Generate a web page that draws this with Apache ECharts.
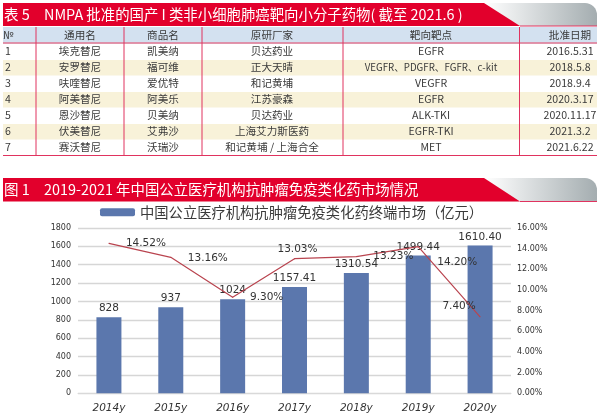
<!DOCTYPE html>
<html>
<head>
<meta charset="utf-8">
<style>
  html, body { margin: 0; padding: 0; background: #fff; }
  #chart { width: 600px; height: 418px; }
</style>
<script src="https://cdn.jsdelivr.net/npm/echarts@6/dist/echarts.min.js"></script>
</head>
<body>
<div id="chart"></div>
<script>
var tableTitleNo = '表 5';
var tableTitle = 'NMPA 批准的国产 I 类非小细胞肺癌靶向小分子药物( 截至 2021.6 )';
var chartTitleNo = '图 1';
var chartTitle = '2019-2021 年中国公立医疗机构抗肿瘤免疫类化药市场情况';

var tableHeader = ['№', '通用名', '商品名', '原研厂家', '靶向靶点', '批准日期'];
var rowNumbers = ['1', '2', '3', '4', '5', '6', '7'];
var genericNames = ['埃克替尼', '安罗替尼', '呋喹替尼', '阿美替尼', '恩沙替尼', '伏美替尼', '赛沃替尼'];
var tradeNames = ['凯美纳', '福可维', '爱优特', '阿美乐', '贝美纳', '艾弗沙', '沃瑞沙'];
var makers = ['贝达药业', '正大天晴', '和记黄埔', '江苏豪森', '贝达药业', '上海艾力斯医药', '和记黄埔 / 上海合全'];
var targets = ['EGFR', 'VEGFR、PDGFR、FGFR、c-kit', 'VEGFR', 'EGFR', 'ALK-TKI', 'EGFR-TKI', 'MET'];
var approvalDates = ['2016.5.31', '2018.5.8', '2018.9.4', '2020.3.17', '2020.11.17', '2021.3.2', '2021.6.22'];

var years = ['2014y', '2015y', '2016y', '2017y', '2018y', '2019y', '2020y'];
var marketName = '中国公立医疗机构抗肿瘤免疫类化药终端市场（亿元）';
var marketValues = [828, 937, 1024, 1157.41, 1310.54, 1499.44, 1610.40];
var growthValues = [14.52, 13.16, 9.30, 13.03, 13.23, 14.20, 7.40];

// where each growth label sits relative to its point
var growthLabelOffsets = [[37, 0], [37, 1], [34, 0], [3, -9], [37, 0], [39, 16], [-21, -11]];

var RED = '#e2002c';
var LINE_RED = '#e0335f';
var FONT = '"Noto Sans CJK SC", "Noto Sans", sans-serif';
var TEXT = '#3a3a3a';

// table geometry
var colLines = [36, 124, 202, 343, 519.5];
var colCenters = [5, 80, 163, 272, 431, 570];
var rowTop = [44, 60, 76, 92, 108, 124, 140];
var rowBottom = 155.5;

var graphics = [];

function rect(x, y, w, h, fill, r) {
  graphics.push({ type: 'rect', silent: true, shape: { x: x, y: y, width: w, height: h, r: r || 0 }, style: { fill: fill } });
}
function line(x1, y1, x2, y2, color, width) {
  graphics.push({ type: 'line', silent: true, shape: { x1: x1, y1: y1, x2: x2, y2: y2 }, style: { stroke: color, lineWidth: width } });
}
function text(str, x, y, size, color, align) {
  graphics.push({
    type: 'text', silent: true, x: x, y: y,
    style: { text: str, fill: color, font: size + 'px ' + FONT, textAlign: align || 'center', textVerticalAlign: 'middle' }
  });
}

function banner(top, height, no, title) {
  var grey = new echarts.graphic.LinearGradient(0, 0, 1, 0, [
    { offset: 0, color: '#ffffff' },
    { offset: 1, color: '#a4adb0' }
  ]);
  rect(485, top, 112, height, grey, [0, 12, 0, 0]);
  graphics.push({
    type: 'polygon', silent: true,
    shape: { points: [[3, top], [484, top], [520, top + height], [3, top + height]] },
    style: { fill: RED }
  });
  line(520, top + height, 597, top + height, LINE_RED, 1);
  text(no, 4, top + height / 2, 14.5, '#fff', 'left');
  text(title, 44, top + height / 2, 14.4, '#fff', 'left');
}

banner(3, 23, tableTitleNo, tableTitle);
banner(178, 23.5, chartTitleNo, chartTitle);

// table
rect(3, 27, 594, 15.5, '#d3e1f0');
[1, 3, 5].forEach(function (i) {
  rect(3, rowTop[i], 594, 15.5, '#f8f2d9');
});
line(3, 43, 597, 43, '#d9708f', 1.5);
line(3, 155.5, 597, 155.5, LINE_RED, 1.2);
colLines.forEach(function (x) {
  line(x, 27, x, rowBottom, LINE_RED, 1);
});

tableHeader.forEach(function (name, c) {
  text(name, colCenters[c] - (c === 0 ? 2 : 0), 34.5, 10.6, TEXT, c === 0 ? 'left' : 'center');
});
[rowNumbers, genericNames, tradeNames, makers, targets, approvalDates].forEach(function (col, c) {
  col.forEach(function (val, r) {
    // the long target list runs tighter in the original
    var size = val.length > 20 ? 9.7 : 10.6;
    text(val, colCenters[c], rowTop[r] + 7, size, TEXT, c === 0 ? 'left' : 'center');
  });
});

var chart = echarts.init(document.getElementById('chart'));

var option = {
  animation: false,
  backgroundColor: '#fff',
  graphic: graphics,
  legend: {
    data: [marketName],
    left: 95,
    top: 200,
    itemWidth: 35,
    itemHeight: 8,
    itemGap: 6,
    textStyle: { fontFamily: FONT, fontSize: 14.3, color: TEXT }
  },
  grid: { left: 78, right: 89, top: 228, bottom: 24.7 },
  xAxis: {
    type: 'category',
    data: years,
    axisLine: { lineStyle: { color: '#d9d9d9' } },
    axisTick: { show: false },
    axisLabel: { fontFamily: 'DejaVu Sans', fontStyle: 'italic', fontSize: 10.5, color: '#333', margin: 9 }
  },
  yAxis: [
    {
      type: 'value', min: 0, max: 1800, interval: 200,
      axisLine: { show: false },
      axisTick: { show: false },
      axisLabel: {
        fontFamily: 'DejaVu Sans', fontSize: 8, color: '#333', margin: 7,
        formatter: function (v) { return String(v); }
      },
      splitLine: { lineStyle: { color: '#d6d6d6', width: 1.3 } }
    },
    {
      type: 'value', min: 0, max: 16, interval: 2,
      axisLine: { show: false },
      axisTick: { show: false },
      splitLine: { show: false },
      axisLabel: {
        fontFamily: 'DejaVu Sans', fontSize: 8, color: '#333', margin: 6,
        formatter: function (v) { return v.toFixed(2) + '%'; }
      }
    }
  ],
  series: [
    {
      name: marketName,
      type: 'bar',
      data: marketValues,
      barWidth: 25,
      itemStyle: { color: '#5b77ad' },
      label: {
        show: true,
        position: 'top',
        distance: 3,
        fontFamily: 'DejaVu Sans',
        fontSize: 10.5,
        color: '#333',
        formatter: function (p) {
          return Number.isInteger(p.value) ? String(p.value) : p.value.toFixed(2);
        }
      }
    },
    {
      name: '增长率',
      type: 'line',
      yAxisIndex: 1,
      z: 5,
      symbol: 'circle',
      symbolSize: 1,
      itemStyle: { color: '#b9444f' },
      lineStyle: { color: '#b9444f', width: 1.2 },
      data: growthValues.map(function (v, i) {
        return {
          value: v,
          label: {
            show: true,
            position: 'inside',
            offset: growthLabelOffsets[i],
            fontFamily: 'DejaVu Sans',
            fontSize: 10.5,
            color: '#333',
            formatter: v.toFixed(2) + '%'
          }
        };
      })
    }
  ]
};

chart.setOption(option);
</script>
</body>
</html>
